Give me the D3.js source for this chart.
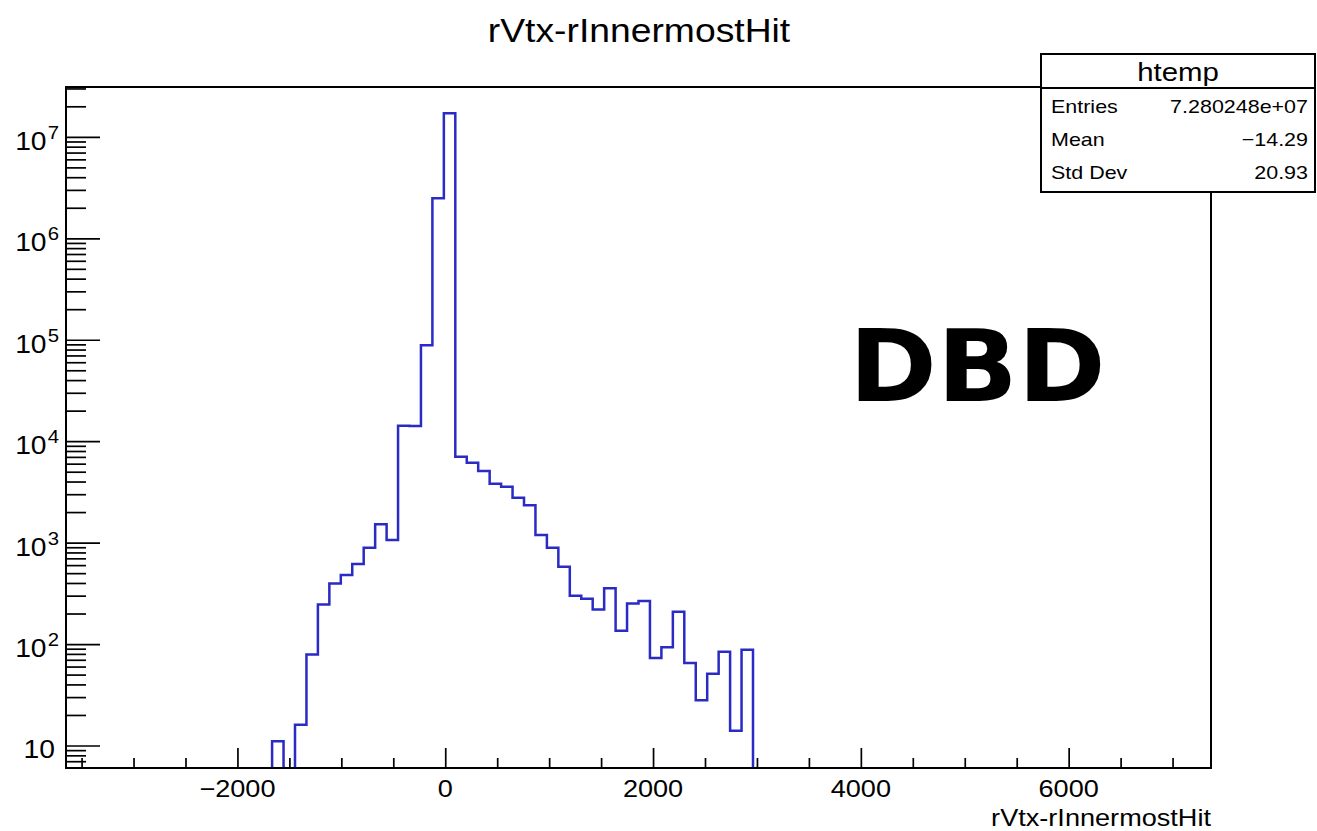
<!DOCTYPE html>
<html>
<head>
<meta charset="utf-8">
<script src="https://cdn.jsdelivr.net/npm/d3@7"></script>
<style>
  body { margin: 0; background: #fff; }
  svg text { font-family: "Liberation Sans", Arial, Helvetica, sans-serif; fill: #000; }
</style>
</head>
<body>
<svg id="chart" width="1317" height="831"></svg>
<script>
// ---- data -------------------------------------------------------------
const histTitle = "rVtx-rInnermostHit";
const xAxisTitle = "rVtx-rInnermostHit";
const xRange = [-3650, 7370];          // histogram limits (100 equal bins)
const yRange = [6, 3.1e7];             // visible log-scale range
// bin contents, left to right
const binCounts = [
  0, 0, 0, 0, 0, 0, 0, 0, 0, 0,
  0, 0, 0, 0, 0, 0, 0, 0, 11, 0,
  16, 79, 245, 396, 479, 614, 889, 1513, 1059, 14200,
  14100, 88100, 2480000, 17100000, 7020, 6120, 5070, 3800, 3550, 2770,
  2330, 1190, 889, 577, 299, 279, 219, 354, 135, 251,
  265, 73, 93, 208, 65, 28, 51, 84, 14, 88,
  0, 0, 0, 0, 0, 0, 0, 0, 0, 0,
  0, 0, 0, 0, 0, 0, 0, 0, 0, 0,
  0, 0, 0, 0, 0, 0, 0, 0, 0, 0,
  0, 0, 0, 0, 0, 0, 0, 0, 0, 0
];
const xMajorTicks = [-2000, 0, 2000, 4000, 6000];
const xMinorStep = 500;
const yDecadeExponents = [1, 2, 3, 4, 5, 6, 7];
const statsName = "htemp";
const statsLabels = ["Entries", "Mean", "Std Dev"];
const statsValues = ["7.280248e+07", "\u221214.29", "20.93"];
const stampText = "DBD";

// ---- layout -----------------------------------------------------------
const frame = { left: 66, right: 1211, top: 87, bottom: 768 };
const stretch = 1.13;                  // horizontal text stretch of the canvas
const lineColor = "#2a2ac4";

const svg = d3.select("#chart");

const x = d3.scaleLinear().domain(xRange).range([frame.left, frame.right]);
const y = d3.scaleLog().domain(yRange).range([frame.bottom, frame.top]);

svg.append("defs").append("clipPath").attr("id", "frameClip")
  .append("rect")
  .attr("x", frame.left).attr("y", frame.top)
  .attr("width", frame.right - frame.left)
  .attr("height", frame.bottom - frame.top);

// ---- histogram outline ------------------------------------------------
// empty bins fall below the log range and run along (under) the frame bottom
const nBins = binCounts.length;
const binWidth = (xRange[1] - xRange[0]) / nBins;
const stepPoints = binCounts.map((c, i) => [xRange[0] + i * binWidth, c]);
stepPoints.push([xRange[1], binCounts[nBins - 1]]);

const stepLine = d3.line()
  .x(d => x(d[0]))
  .y(d => d[1] >= yRange[0] ? y(d[1]) : frame.bottom + 4)
  .curve(d3.curveStepAfter);

svg.append("path")
  .attr("clip-path", "url(#frameClip)")
  .attr("d", stepLine(stepPoints))
  .attr("fill", "none")
  .attr("stroke", lineColor)
  .attr("stroke-width", 2.5);

// ---- x axis ticks (pointing into the frame) ---------------------------
const xMinorTicks = d3.range(Math.ceil(xRange[0] / xMinorStep) * xMinorStep, xRange[1], xMinorStep)
  .filter(v => !xMajorTicks.includes(v));

function styleAxis(g) {
  g.select(".domain").remove();
  g.selectAll(".tick line").attr("stroke", "#000").attr("stroke-width", 1.7);
}

svg.append("g")
  .attr("transform", `translate(0,${frame.bottom})`)
  .call(d3.axisBottom(x).tickValues(xMinorTicks).tickSizeInner(-10).tickSizeOuter(0).tickFormat(""))
  .call(styleAxis);
svg.append("g")
  .attr("transform", `translate(0,${frame.bottom})`)
  .call(d3.axisBottom(x).tickValues(xMajorTicks).tickSizeInner(-20).tickSizeOuter(0).tickFormat(""))
  .call(styleAxis);

// x tick labels
svg.append("g").selectAll("text")
  .data(xMajorTicks)
  .join("text")
  .attr("transform", d => `translate(${x(d)},797) scale(${stretch},1)`)
  .attr("text-anchor", "middle")
  .attr("font-size", 24)
  .text(d => d < 0 ? "\u2212" + Math.abs(d) : String(d));

// ---- y axis ticks -----------------------------------------------------
const yMinorTicks = [];
for (let e = 0; e <= 7; e++) {
  for (let m = 2; m <= 9; m++) {
    const v = m * Math.pow(10, e);
    if (v > yRange[0] && v < yRange[1]) yMinorTicks.push(v);
  }
}
const yMajorTicks = yDecadeExponents.map(e => Math.pow(10, e));

svg.append("g")
  .attr("transform", `translate(${frame.left},0)`)
  .call(d3.axisLeft(y).tickValues(yMinorTicks).tickSizeInner(-20).tickSizeOuter(0).tickFormat(""))
  .call(styleAxis);
svg.append("g")
  .attr("transform", `translate(${frame.left},0)`)
  .call(d3.axisLeft(y).tickValues(yMajorTicks).tickSizeInner(-34).tickSizeOuter(0).tickFormat(""))
  .call(styleAxis);

// y tick labels: 10, 10^2 ... 10^7
const yLabels = svg.append("g").selectAll("text")
  .data(yDecadeExponents)
  .join("text")
  .attr("transform", d => `translate(${d === 1 ? 55 : 59},${y(Math.pow(10, d)) + 13}) scale(${stretch},1)`)
  .attr("text-anchor", "end")
  .attr("font-size", 25);
yLabels.append("tspan").text("10");
yLabels.filter(d => d !== 1).append("tspan")
  .attr("font-size", 18)
  .attr("dx", 1)
  .attr("dy", -11)
  .text(d => String(d));

// ---- frame ------------------------------------------------------------
svg.append("rect")
  .attr("x", frame.left).attr("y", frame.top)
  .attr("width", frame.right - frame.left)
  .attr("height", frame.bottom - frame.top)
  .attr("fill", "none")
  .attr("stroke", "#000")
  .attr("stroke-width", 2);

// ---- titles -----------------------------------------------------------
svg.append("text")
  .attr("transform", `translate(639,42) scale(${stretch},1)`)
  .attr("text-anchor", "middle")
  .attr("font-size", 33)
  .text(histTitle);

svg.append("text")
  .attr("transform", `translate(${frame.right},826) scale(${stretch},1)`)
  .attr("text-anchor", "end")
  .attr("font-size", 24)
  .text(xAxisTitle);

// ---- statistics box ---------------------------------------------------
const box = { left: 1041, right: 1315, top: 54, header: 88, bottom: 192 };
const stats = svg.append("g");
stats.append("rect")
  .attr("x", box.left).attr("y", box.top)
  .attr("width", box.right - box.left)
  .attr("height", box.bottom - box.top)
  .attr("fill", "#fff")
  .attr("stroke", "#000")
  .attr("stroke-width", 2);
stats.append("line")
  .attr("x1", box.left).attr("x2", box.right)
  .attr("y1", box.header).attr("y2", box.header)
  .attr("stroke", "#000").attr("stroke-width", 2);
stats.append("text")
  .attr("transform", `translate(${(box.left + box.right) / 2},81) scale(${stretch},1)`)
  .attr("text-anchor", "middle")
  .attr("font-size", 26)
  .text(statsName);

const rowBaselines = [113, 146, 179];
stats.selectAll("text.lbl")
  .data(statsLabels)
  .join("text")
  .attr("class", "lbl")
  .attr("transform", (d, i) => `translate(1051,${rowBaselines[i]}) scale(${stretch},1)`)
  .attr("font-size", 19)
  .text(d => d);
stats.selectAll("text.val")
  .data(statsValues)
  .join("text")
  .attr("class", "val")
  .attr("transform", (d, i) => `translate(1308,${rowBaselines[i]}) scale(${stretch},1)`)
  .attr("text-anchor", "end")
  .attr("font-size", 19)
  .text(d => d);

// ---- stamp ------------------------------------------------------------
svg.append("text")
  .attr("transform", "translate(849,401) scale(1.06,1)")
  .style("font-family", "'DejaVu Sans', sans-serif")
  .attr("font-weight", "bold")
  .attr("font-size", 100)
  .text(stampText);
</script>
</body>
</html>
